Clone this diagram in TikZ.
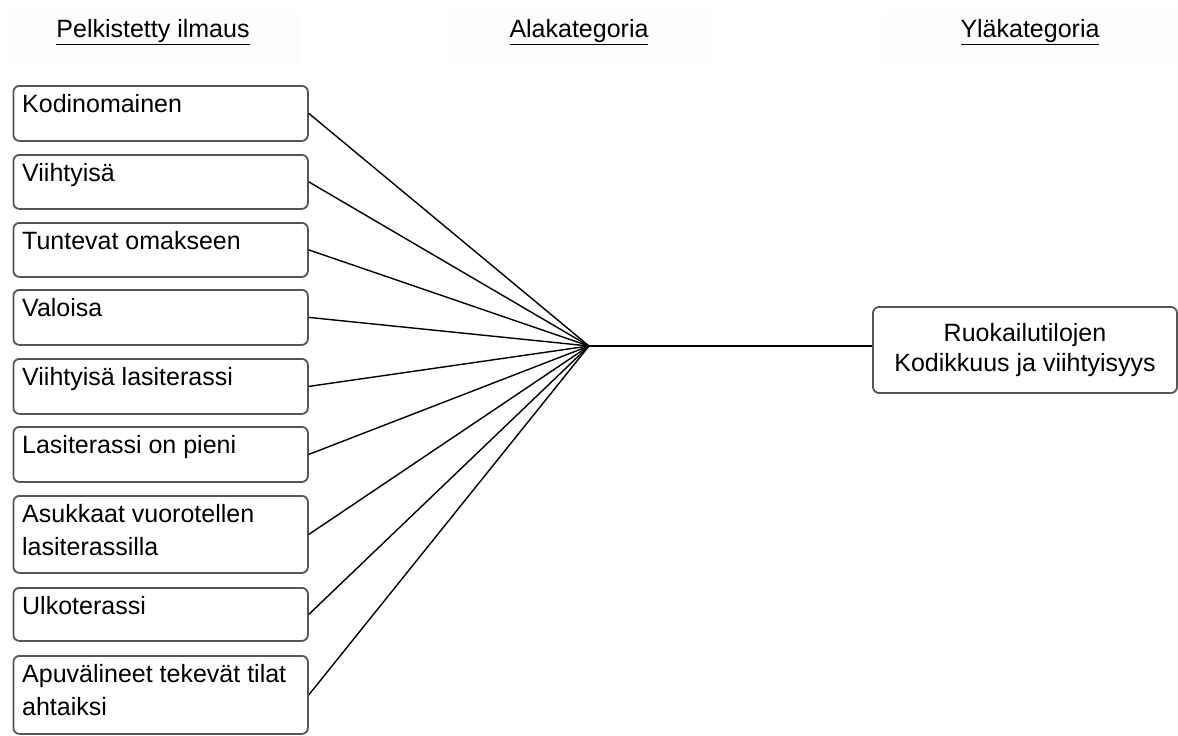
\documentclass[tikz,border=0pt]{standalone}
\usepackage{fontspec}
\setmainfont{Liberation Sans}
\definecolor{boxgray}{HTML}{555555}
\definecolor{headfill}{HTML}{FDFDFD}
\begin{document}
\begin{tikzpicture}[x=1pt,y=1pt,
  box/.style={draw=boxgray, line width=1.8pt, rounded corners=6pt, fill=white,
    inner sep=0pt, anchor=north west, minimum width=294.5pt},
  txt/.style={inner sep=0pt, anchor=north west, align=left,
    font=\fontsize{25}{33}\selectfont},
  head/.style={inner sep=0pt, font=\fontsize{25}{30}\selectfont},
  headbg/.style={fill=headfill, draw=none},
  link/.style={line width=1.4pt, black}
]
\useasboundingbox (0,0) rectangle (1178,-736);

% column headings on their faint panels
\fill[headbg] (7,-12) rectangle (300,-67);
\fill[headbg] (445,-12) rectangle (713,-67);
\fill[headbg] (882,-12) rectangle (1178,-67);
\node[head] (h1) at (153,-32) {\underline{Pelkistetty ilmaus}};
\node[head] (h2) at (579,-32) {\underline{Alakategoria}};
\node[head] (h3) at (1030,-32) {\underline{Yläkategoria}};

% reduced expressions (left column)
\node[box, minimum height=55pt] (b1) at (12.5,-85) {};
\node[box, minimum height=54pt] (b2) at (12.5,-154) {};
\node[box, minimum height=54pt] (b3) at (12.5,-222) {};
\node[box, minimum height=55pt] (b4) at (12.5,-289) {};
\node[box, minimum height=55pt] (b5) at (12.5,-358) {};
\node[box, minimum height=55pt] (b6) at (12.5,-426) {};
\node[box, minimum height=77pt] (b7) at (12.5,-495) {};
\node[box, minimum height=53pt] (b8) at (12.5,-587) {};
\node[box, minimum height=78pt] (b9) at (12.5,-655) {};

\node[txt] (t1) at ([shift={(9.5,-9.5)}]b1.north west) {Kodinomainen};
\node[txt] (t2) at ([shift={(9.5,-9.5)}]b2.north west) {Viihtyisä};
\node[txt] (t3) at ([shift={(9.5,-9.5)}]b3.north west) {Tuntevat omakseen};
\node[txt] (t4) at ([shift={(9.5,-9.5)}]b4.north west) {Valoisa};
\node[txt] (t5) at ([shift={(9.5,-9.5)}]b5.north west) {Viihtyisä lasiterassi};
\node[txt] (t6) at ([shift={(9.5,-9.5)}]b6.north west) {Lasiterassi on pieni};
\node[txt] (t7) at ([shift={(9.5,-9.5)}]b7.north west) {Asukkaat vuorotellen\\lasiterassilla};
\node[txt] (t8) at ([shift={(9.5,-9.5)}]b8.north west) {Ulkoterassi};
\node[txt] (t9) at ([shift={(9.5,-9.5)}]b9.north west) {Apuvälineet tekevät tilat\\ahtaiksi};

% upper category (right)
\node[draw=boxgray, line width=1.8pt, rounded corners=6pt, fill=white,
  minimum width=304pt, minimum height=86pt, inner sep=0pt, align=center,
  font=\fontsize{25}{30}\selectfont] (top) at (1025,-350)
  {Ruokailutilojen\\Kodikkuus ja viihtyisyys};

% sub-category junction
\coordinate (hub) at (589,-346);

\foreach \b in {b1,b2,b3,b4,b5,b6,b7,b8,b9}
  \draw[link] (\b.east) -- (hub);
\draw[link] (hub) -- (top.west |- hub);
\end{tikzpicture}
\end{document}
